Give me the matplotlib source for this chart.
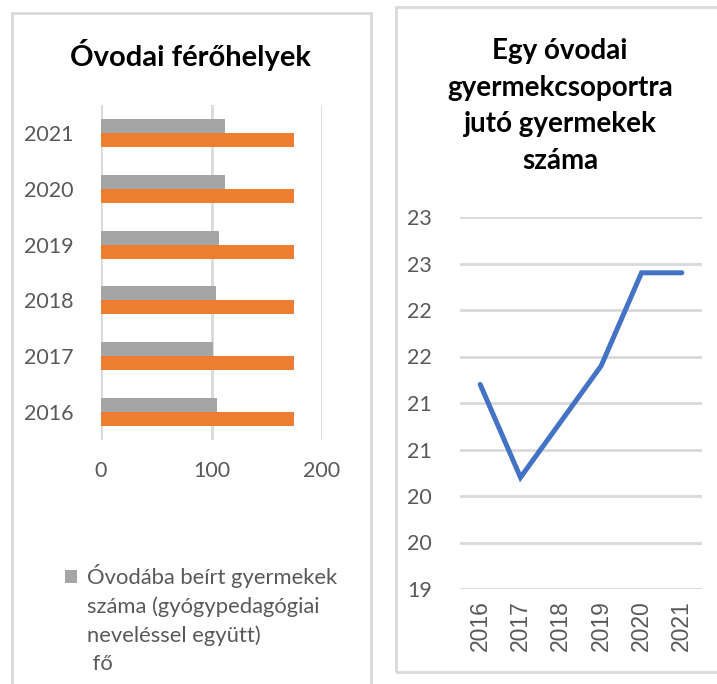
import matplotlib
matplotlib.use('Agg')
import matplotlib.pyplot as plt
from matplotlib.patches import Rectangle, Patch

# adatok
evek = ['2016', '2017', '2018', '2019', '2020', '2021']
beirt_gyermekek = [105, 101, 104, 107, 112, 112]
ferohelyek = [175, 175, 175, 175, 175, 175]
csoport_letszam = [21.2, 20.2, 20.8, 21.4, 22.4, 22.4]

bal_cim = 'Óvodai férőhelyek'
jobb_cim = 'Egy óvodai\ngyermekcsoportra\njutó gyermekek\nszáma'
sorozat_nevek = ['Óvodába beírt gyermekek\nszáma (gyógypedagógiai\nneveléssel együtt)', 'fő']
x_ticks_bal = [0, 100, 200]
y_ticks_jobb = [19, 19.5, 20, 20.5, 21, 21.5, 22, 22.5, 23]

SZURKE = '#a5a5a5'
NARANCS = '#ed7d31'
KEK = '#4472c4'
RACS = '#d9d9d9'
FELIRAT = '#595959'

plt.rcParams['font.family'] = ['Lato', 'DejaVu Sans']

W, H = 717, 684
fig = plt.figure(figsize=(W / 100, H / 100), dpi=100)


def px(x0, y0, x1, y1):
    # pixel koordinatak -> figura aranyok
    return [x0 / W, 1 - y1 / H, (x1 - x0) / W, (y1 - y0) / H]


# keretek
for (x0, y0, x1, y1) in [(12, 13, 371, 700), (396, 7, 730, 672)]:
    fig.patches.append(Rectangle((x0 / W, 1 - y1 / H), (x1 - x0) / W, (y1 - y0) / H,
                                 transform=fig.transFigure, fill=False,
                                 edgecolor=RACS, linewidth=2))

# --- bal oldali diagram ---
ax1 = fig.add_axes(px(101, 105, 322, 440))
pos = list(range(len(evek)))
h = 0.25
ax1.barh([p + h / 2 for p in pos], beirt_gyermekek, height=h, color=SZURKE, zorder=3)
ax1.barh([p - h / 2 for p in pos], ferohelyek, height=h, color=NARANCS, zorder=3)
ax1.set_xlim(0, 200)
ax1.set_ylim(-0.5, len(evek) - 0.5)
ax1.set_xticks(x_ticks_bal)
ax1.set_yticks(pos)
ax1.set_yticklabels(evek)
ax1.grid(axis='x', color=RACS, linewidth=2, zorder=0)
for s in ax1.spines.values():
    s.set_visible(False)
ax1.tick_params(length=0, labelsize=15.5, labelcolor=FELIRAT)
ax1.tick_params(axis='y', pad=20)
ax1.tick_params(axis='x', pad=15)
fig.text(190 / W, 1 - 55 / H, bal_cim, ha='center', va='center',
         fontsize=21, fontweight='bold', color='black')

# jelmagyarazat: soronkent, hogy a negyzet az elso sorhoz igazodjon
sorok = sorozat_nevek[0].split('\n') + [' ' + sorozat_nevek[1]]
kezelok = [Patch(facecolor=SZURKE)] + [Patch(facecolor='none', edgecolor='none')] * (len(sorok) - 1)
fig.legend(kezelok, sorok, loc='upper left', bbox_to_anchor=(54 / W, 1 - 553 / H),
           frameon=False, fontsize=15.8, labelcolor=FELIRAT, handlelength=0.55,
           handleheight=0.55, handletextpad=0.45, labelspacing=0.38, borderpad=0)

# --- jobb oldali diagram ---
ax2 = fig.add_axes(px(460, 217, 702, 589))
ax2.plot(range(len(evek)), csoport_letszam, color=KEK, linewidth=3.6,
         solid_capstyle='round', solid_joinstyle='miter', zorder=3)
ax2.set_xlim(-0.5, len(evek) - 0.5)
ax2.set_ylim(19, 23)
ax2.set_yticks(y_ticks_jobb)
ax2.set_yticklabels([str(int(v + 0.5)) for v in y_ticks_jobb])
ax2.set_xticks(range(len(evek)))
ax2.set_xticklabels(evek, rotation=90, fontfamily=['Liberation Sans', 'DejaVu Sans'])
ax2.grid(axis='y', color=RACS, linewidth=2, zorder=0)
for s in ax2.spines.values():
    s.set_visible(False)
ax2.tick_params(length=0, labelsize=15.5, labelcolor=FELIRAT)
ax2.tick_params(axis='x', labelsize=16.5, pad=8)
ax2.tick_params(axis='y', pad=20)
fig.text(560 / W, 1 - 106 / H, jobb_cim, ha='center', va='center',
         fontsize=20, fontweight='bold', color='black', linespacing=1.52)

fig.savefig('out.png', dpi=100)
